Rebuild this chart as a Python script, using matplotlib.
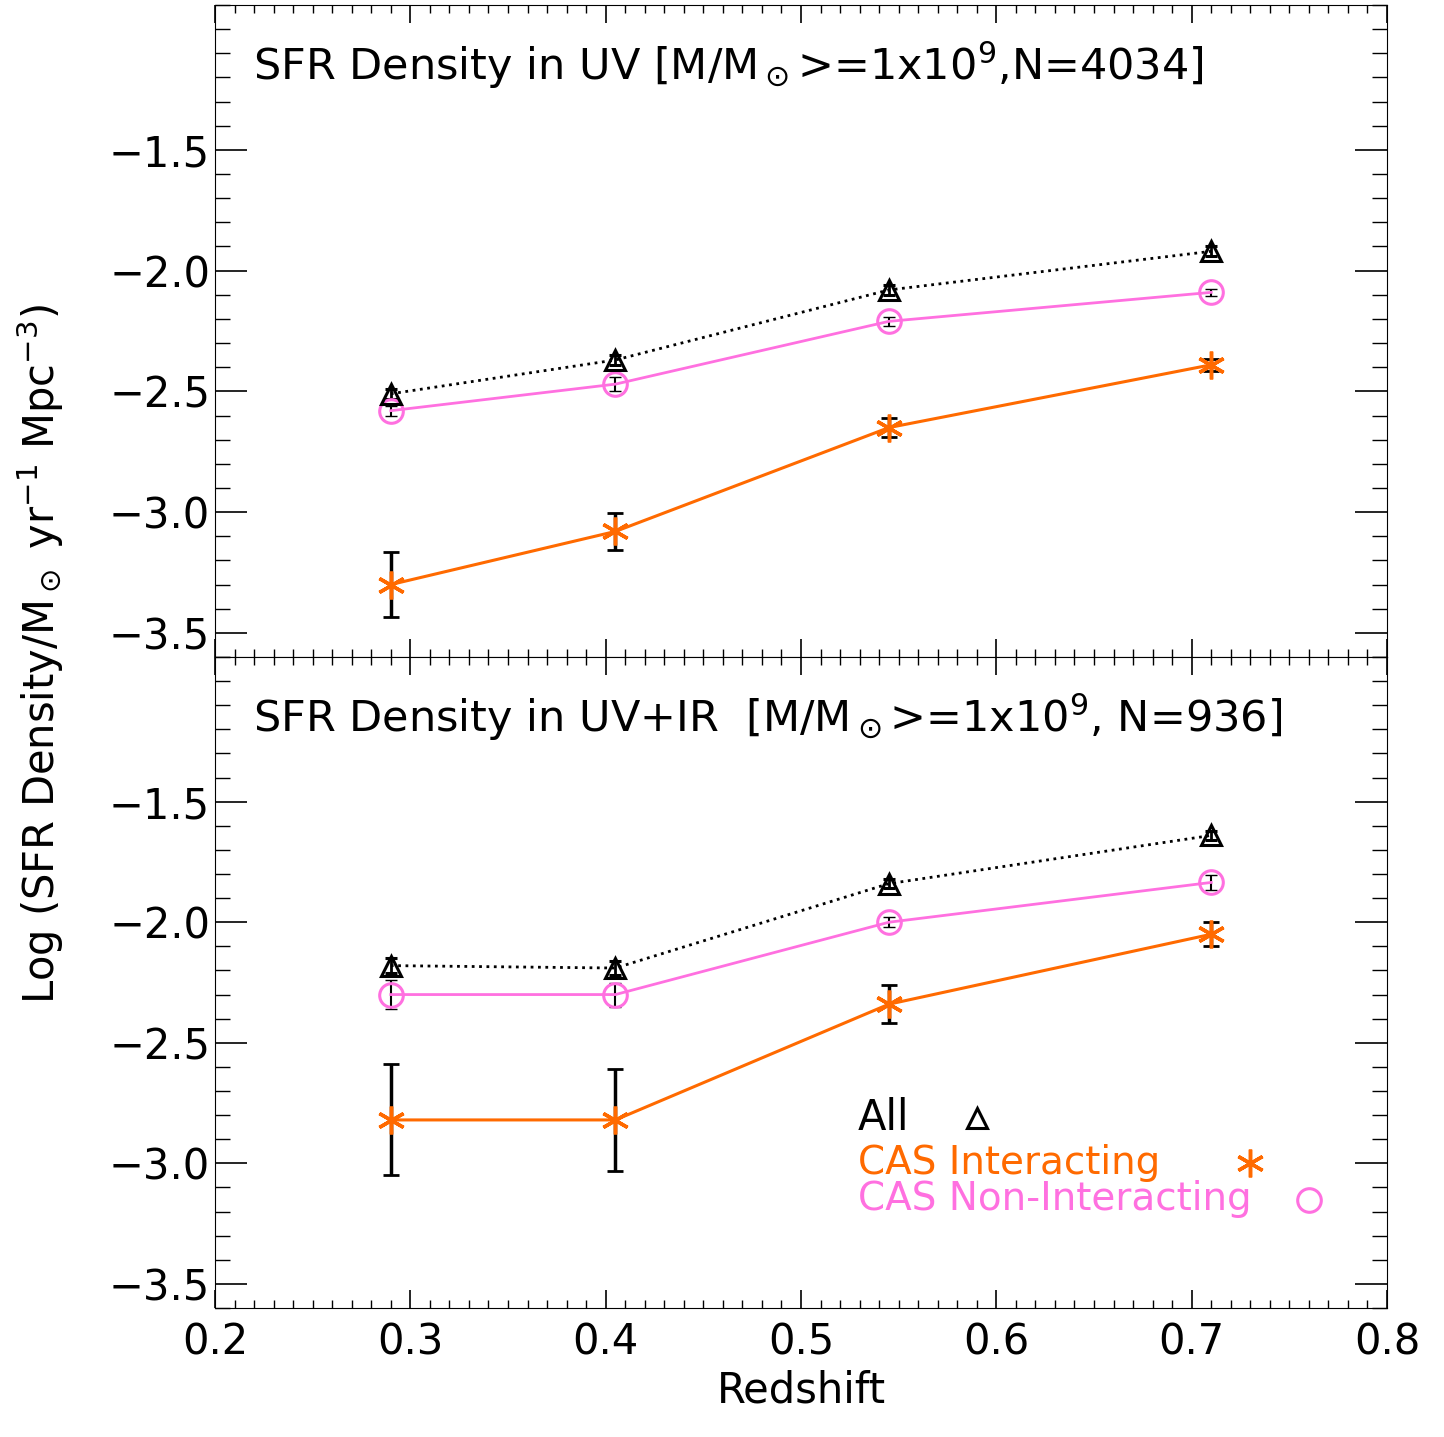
import matplotlib
matplotlib.use("Agg")
import matplotlib.pyplot as plt
from matplotlib.ticker import MultipleLocator

z = [0.290, 0.405, 0.545, 0.710]
uv_all = [-2.51, -2.37, -2.08, -1.92]
uv_all_err = [0.02, 0.02, 0.02, 0.02]
uv_non = [-2.58, -2.47, -2.21, -2.09]
uv_non_err = [0.02, 0.03, 0.02, 0.015]
uv_int = [-3.30, -3.08, -2.65, -2.39]
uv_int_err = [0.135, 0.075, 0.04, 0.025]

ir_all = [-2.18, -2.19, -1.84, -1.64]
ir_all_err = [0.03, 0.03, 0.02, 0.02]
ir_non = [-2.30, -2.30, -2.00, -1.835]
ir_non_err = [0.06, 0.05, 0.02, 0.03]
ir_int = [-2.82, -2.82, -2.34, -2.05]
ir_int_err = [0.23, 0.21, 0.08, 0.05]

titles = [r"SFR Density in UV [M/M$_\odot$>=1x10$^9$,N=4034]",
          r"SFR Density in UV+IR  [M/M$_\odot$>=1x10$^9$, N=936]"]

ORANGE = "#ff6a00"
PINK = "#ff70e0"

fig = plt.figure(figsize=(14.44, 14.37), dpi=100)
axs = [fig.add_axes([215/1444, (1437-657)/1437, 1172/1444, 652/1437]),
       fig.add_axes([215/1444, (1437-1308)/1437, 1172/1444, 651/1437])]

data = [(uv_all, uv_all_err, uv_non, uv_non_err, uv_int, uv_int_err),
        (ir_all, ir_all_err, ir_non, ir_non_err, ir_int, ir_int_err)]

for ax, d, t in zip(axs, data, titles):
    a, ae, n, ne, i, ie = d
    ax.errorbar(z, a, yerr=ae, color="black", ls=":", lw=2, marker="^", ms=15,
                mfc="none", mew=2.2, capsize=4, elinewidth=2)
    ax.errorbar(z, n, yerr=ne, color="black", ls="none", capsize=4, elinewidth=1.5)
    ax.plot(z, n, color=PINK, lw=2, marker="o", ms=17, mfc="none", mew=2.2)
    ax.errorbar(z, i, yerr=ie, color="black", ls="none", capsize=6, elinewidth=2.5, capthick=2)
    ax.plot(z, i, color=ORANGE, lw=2.2, marker=(6, 2, 0), ms=20, mew=2.5)
    ax.set_xlim(0.2, 0.8)
    ax.set_ylim(-3.6, -0.9)
    ax.set_yticks([-3.5, -3.0, -2.5, -2.0, -1.5])
    ax.yaxis.set_minor_locator(MultipleLocator(0.1))
    ax.xaxis.set_minor_locator(MultipleLocator(0.01))
    ax.xaxis.set_major_locator(MultipleLocator(0.1))
    ax.tick_params(which="both", direction="in", top=True, right=True, labelsize=30)
    ax.tick_params(axis="x", which="major", length=13, width=1.2, pad=10)
    ax.tick_params(axis="x", which="minor", length=6, width=1)
    ax.tick_params(axis="y", which="major", length=23, width=1.2)
    ax.tick_params(axis="y", which="minor", length=11, width=1)
    ax.text(0.032, 0.908, t, transform=ax.transAxes, fontsize=31, va="center")

axs[0].set_xticklabels([])
axs[1].set_xlabel("Redshift", fontsize=30)
fig.text(0.028, 0.545, r"Log (SFR Density/M$_\odot$ yr$^{-1}$ Mpc$^{-3}$)", rotation=90,
         fontsize=30, va="center", ha="center")

ax = axs[1]
ax.text(0.529, -2.81, "All", fontsize=30, va="center")
ax.plot([0.59], [-2.81], marker="^", ms=15, mfc="none", mec="black", mew=2.2)
ax.text(0.529, -3.0, "CAS Interacting", fontsize=28, va="center", color=ORANGE)
ax.plot([0.73], [-3.0], marker=(6, 2, 0), ms=20, mew=2.5, color=ORANGE)
ax.text(0.529, -3.15, "CAS Non-Interacting", fontsize=28, va="center", color=PINK)
ax.plot([0.76], [-3.15], marker="o", ms=17, mfc="none", mec=PINK, mew=2.2)

fig.savefig("out.png", dpi=100)
